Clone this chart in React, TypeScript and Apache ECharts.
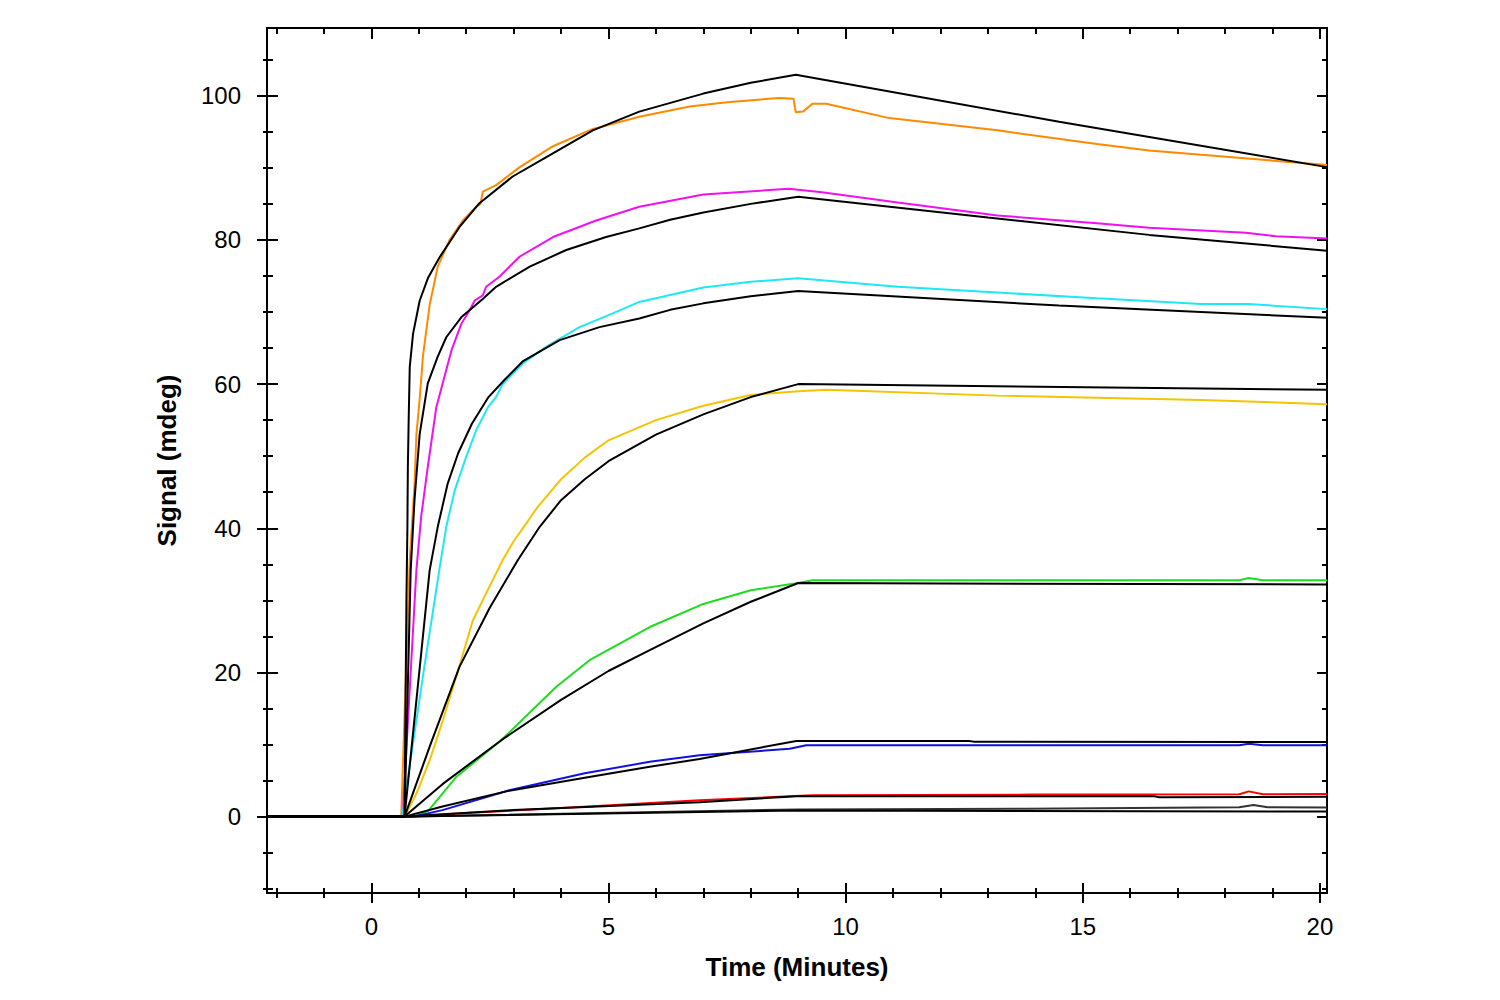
import React, { useEffect, useRef } from "react";
import * as echarts from "echarts";

// axis ranges and ticks
const X_MIN = -2.2;
const X_MAX = 20.15;
const Y_MIN = -10.6;
const Y_MAX = 109.4;
const X_MAJOR = [0, 5, 10, 15, 20];
const X_MINOR = [-2, -1, 1, 2, 3, 4, 6, 7, 8, 9, 11, 12, 13, 14, 16, 17, 18, 19];
const Y_MAJOR = [0, 20, 40, 60, 80, 100];
const Y_MINOR = [-10, -5, 5, 10, 15, 25, 30, 35, 45, 50, 55, 65, 70, 75, 85, 90, 95, 105];

// measured traces [minutes, mdeg]
const orangeTrace = [[-2.2, 0], [0.63, 0], [0.81, 35.6], [0.91, 46], [0.95, 53], [1.02, 58], [1.09, 64], [1.23, 71], [1.4, 76.3], [1.65, 80], [1.93, 82.7], [2.21, 84.6], [2.3, 85], [2.35, 86.7], [2.63, 87.6], [3.13, 90.1], [3.83, 93], [4.67, 95.4], [5.65, 97.1], [6.71, 98.5], [7.5, 99.1], [8.6, 99.7], [8.9, 99.6], [8.95, 97.7], [9.1, 97.8], [9.3, 98.9], [9.59, 98.9], [10.92, 96.9], [13.2, 95.2], [15.3, 93.3], [16.4, 92.4], [17.5, 91.8], [20.15, 90.4]];
const magentaTrace = [[-2.2, 0], [0.66, 0], [0.95, 34.2], [1.05, 41.6], [1.19, 48.5], [1.37, 56.8], [1.54, 61], [1.69, 64.7], [1.9, 68.4], [2.07, 70.2], [2.18, 71.6], [2.35, 72.3], [2.42, 73.5], [2.7, 74.9], [3.13, 77.7], [3.83, 80.4], [4.74, 82.7], [5.65, 84.6], [7, 86.3], [8.8, 87.1], [9.5, 86.6], [11.1, 85.2], [13.2, 83.4], [15.3, 82.3], [16.4, 81.7], [18.44, 81], [19.07, 80.5], [20.15, 80.2]];
const cyanTrace = [[-2.2, 0], [0.65, 0], [1.1, 20], [1.44, 34.5], [1.58, 40.2], [1.76, 45.3], [2, 49.9], [2.21, 53.6], [2.46, 56.8], [2.63, 58.2], [2.77, 60], [3.2, 62.9], [3.69, 65.2], [4.39, 67.9], [5.09, 69.8], [5.65, 71.4], [7, 73.4], [8, 74.2], [9, 74.7], [11.1, 73.5], [13.2, 72.7], [15.3, 71.9], [17.5, 71.1], [18.5, 71.1], [20.15, 70.4]];
const yellowTrace = [[-2.2, 0], [0.7, 0], [0.95, 3.2], [1.23, 7.8], [1.51, 13.4], [1.79, 19.4], [2.14, 27.2], [2.49, 31.9], [2.77, 35.6], [3, 38.2], [3.3, 41], [3.5, 42.9], [4, 46.8], [4.5, 49.8], [5, 52.2], [6, 55], [7, 57], [8, 58.5], [9, 59], [9.6, 59.2], [13.2, 58.4], [17.5, 57.8], [18.5, 57.6], [20.15, 57.2]];
const greenTrace = [[-2.2, 0], [0.9, 0], [1.2, 0.8], [1.79, 5.5], [2.74, 10.6], [3.9, 18], [4.6, 21.7], [5.87, 26.3], [7, 29.5], [8, 31.4], [9, 32.4], [9.3, 32.8], [18.3, 32.8], [18.5, 33.1], [18.8, 32.8], [20.15, 32.8]];
const blueTrace = [[-2.2, 0], [0.9, 0], [1.5, 0.9], [2.91, 3.65], [4.5, 6], [5.87, 7.6], [6.92, 8.5], [8.82, 9.4], [9.17, 9.9], [18.3, 9.9], [18.5, 10.1], [18.8, 9.9], [20.15, 9.9]];
const redTrace = [[-2.2, 0], [0.9, 0], [2, 0.5], [4, 1.2], [6.92, 2.26], [9.3, 2.96], [14, 3.05], [18.3, 3.1], [18.5, 3.5], [18.8, 3.1], [20.15, 3.15]];
const grayTrace = [[-2.2, 0], [0.9, 0], [9, 1], [13.8, 1.1], [18.3, 1.3], [18.6, 1.6], [18.9, 1.3], [20.15, 1.25]];

// fitted curves
const fit1 = [[-2.2, 0], [0.7, 0], [0.74, 30], [0.76, 40], [0.77, 48.5], [0.79, 56], [0.81, 62.4], [0.88, 67], [1.02, 71.6], [1.2, 74.8], [1.44, 77.6], [1.86, 81.8], [2.28, 85.1], [2.98, 88.8], [3.69, 91.5], [4.67, 95.2], [5.65, 97.8], [7, 100.3], [8, 101.8], [8.95, 102.9], [14.5, 96.4], [20.15, 90.1]];
const fit2 = [[-2.2, 0], [0.7, 0], [0.83, 34.2], [0.91, 43.9], [1.02, 53.1], [1.19, 60.1], [1.4, 63.8], [1.58, 66.5], [1.9, 69.3], [2.35, 71.8], [2.63, 73.5], [3.34, 76.3], [4.11, 78.6], [4.95, 80.4], [5.65, 81.6], [6.3, 82.8], [7, 83.8], [8, 85], [9, 86], [13, 83.1], [16.4, 80.7], [20.15, 78.5]];
const fit3 = [[-2.2, 0], [0.7, 0], [1.23, 34.2], [1.4, 40.2], [1.61, 46.2], [1.83, 50.4], [2.12, 54.5], [2.47, 58.2], [2.81, 60.6], [3.2, 63.2], [3.97, 66.1], [4.81, 67.9], [5.65, 69.1], [6.3, 70.3], [7, 71.2], [8, 72.2], [9, 72.9], [14.5, 70.9], [20.15, 69.2]];
const fit4 = [[-2.2, 0], [0.7, 0], [1.23, 9.7], [1.86, 20.8], [2.5, 29], [3.09, 35.6], [3.55, 40.2], [4, 43.9], [4.5, 46.8], [5, 49.3], [6, 53], [7, 55.8], [8, 58.2], [9, 60], [20.15, 59.2]];
const fit5 = [[-2.2, 0], [0.7, 0], [1.5, 4.5], [2.74, 10.6], [4, 16.2], [5, 20.2], [5.87, 23.1], [7, 26.8], [8, 29.8], [9, 32.4], [20.15, 32.2]];
const fit6 = [[-2.2, 0], [0.7, 0], [1.5, 1.4], [2.91, 3.6], [4.5, 5.4], [5.87, 6.9], [6.92, 8], [8.96, 10.5], [12.6, 10.5], [12.7, 10.4], [20.15, 10.35]];
const fit7 = [[-2.2, 0], [0.7, 0], [3, 0.9], [6.92, 2], [8.96, 2.82], [16.5, 2.82], [16.6, 2.7], [20.15, 2.75]];
const fit8 = [[-2.2, 0], [0.7, 0], [9, 0.85], [20.15, 0.7]];

const traces = [
  { data: orangeTrace, color: "#ff8a00" },
  { data: magentaTrace, color: "#f010f0" },
  { data: cyanTrace, color: "#1ee8f5" },
  { data: yellowTrace, color: "#f5c400" },
  { data: greenTrace, color: "#1edc1e" },
  { data: blueTrace, color: "#1010e0" },
  { data: redTrace, color: "#ff0000" },
  { data: grayTrace, color: "#333333" },
];
const fits = [fit1, fit2, fit3, fit4, fit5, fit6, fit7, fit8];

const FONT = "'Liberation Sans', Arial, sans-serif";

function tickAxis(position: string, offset: number, values: number[], length: number, min: number, max: number) {
  return {
    type: "value",
    min,
    max,
    position,
    offset,
    axisLine: { show: false, onZero: false },
    axisTick: { show: true, inside: true, length, customValues: values, lineStyle: { color: "#000", width: 2 } },
    axisLabel: { show: false },
    splitLine: { show: false },
  };
}

export default function App() {
  const chartRef = useRef<HTMLDivElement>(null);

  useEffect(() => {
    if (!chartRef.current) return;
    const chart = echarts.init(chartRef.current, undefined, { renderer: "svg" });

    const lineSeries = (data: number[][], color: string, z: number) => ({
      type: "line",
      data,
      xAxisIndex: 0,
      yAxisIndex: 0,
      showSymbol: false,
      symbol: "none",
      silent: true,
      z,
      lineStyle: { color, width: 2 },
    });

    chart.setOption({
      animation: false,
      backgroundColor: "#fff",
      textStyle: { fontFamily: FONT },
      grid: { left: 267, right: 173, top: 28, bottom: 107, outerBoundsMode: "none" },
      xAxis: [
        {
          type: "value",
          min: X_MIN,
          max: X_MAX,
          position: "bottom",
          offset: 0,
          axisLine: { onZero: false, lineStyle: { color: "#000", width: 2 } },
          axisTick: { show: false },
          axisLabel: { customValues: X_MAJOR, color: "#000", fontSize: 24, fontFamily: FONT, margin: 21 },
          splitLine: { show: false },
          name: "Time (Minutes)",
          nameLocation: "middle",
          nameGap: 61,
          nameTextStyle: { color: "#000", fontSize: 26, fontWeight: "bold", fontFamily: FONT },
        },
        tickAxis("bottom", 10, X_MAJOR, 20, X_MIN, X_MAX),
        tickAxis("bottom", 5, X_MINOR, 10, X_MIN, X_MAX),
        {
          type: "value",
          min: X_MIN,
          max: X_MAX,
          position: "top",
          offset: 0,
          axisLine: { onZero: false, lineStyle: { color: "#000", width: 2 } },
          axisTick: { show: true, inside: true, length: 11, customValues: X_MAJOR, lineStyle: { color: "#000", width: 2 } },
          axisLabel: { show: false },
          splitLine: { show: false },
        },
        tickAxis("top", 0, X_MINOR, 6, X_MIN, X_MAX),
      ],
      yAxis: [
        {
          type: "value",
          min: Y_MIN,
          max: Y_MAX,
          position: "left",
          offset: 0,
          axisLine: { onZero: false, lineStyle: { color: "#000", width: 2 } },
          axisTick: { show: false },
          axisLabel: { customValues: Y_MAJOR, color: "#000", fontSize: 24, fontFamily: FONT, margin: 26 },
          splitLine: { show: false },
          name: "Signal (mdeg)",
          nameLocation: "middle",
          nameRotate: 90,
          nameGap: 87,
          nameTextStyle: { color: "#000", fontSize: 26, fontWeight: "bold", fontFamily: FONT },
        },
        tickAxis("left", 10, Y_MAJOR, 21, Y_MIN, Y_MAX),
        tickAxis("left", 4, Y_MINOR, 10, Y_MIN, Y_MAX),
        {
          type: "value",
          min: Y_MIN,
          max: Y_MAX,
          position: "right",
          offset: 0,
          axisLine: { onZero: false, lineStyle: { color: "#000", width: 2 } },
          axisTick: { show: true, inside: true, length: 10, customValues: Y_MAJOR, lineStyle: { color: "#000", width: 2 } },
          axisLabel: { show: false },
          splitLine: { show: false },
        },
        tickAxis("right", 0, Y_MINOR, 5, Y_MIN, Y_MAX),
      ],
      series: [
        ...traces.map((t) => lineSeries(t.data, t.color, 2)),
        ...fits.map((f) => lineSeries(f, "#000", 3)),
      ],
    });

    return () => {
      chart.dispose();
    };
  }, []);

  return (
    <div
      ref={chartRef}
      style={{ position: "fixed", left: 0, top: 0, width: "1500px", height: "1000px", background: "#fff" }}
    />
  );
}
